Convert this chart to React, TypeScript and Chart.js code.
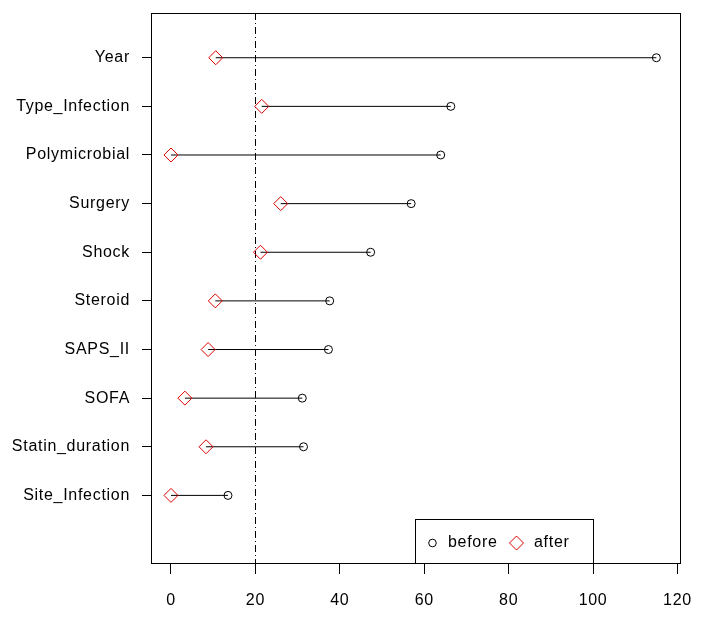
import React, { useEffect, useRef } from "react";
import { Chart, registerables } from "chart.js";

Chart.register(...registerables);

const categories = [
  "Year",
  "Type_Infection",
  "Polymicrobial",
  "Surgery",
  "Shock",
  "Steroid",
  "SAPS_II",
  "SOFA",
  "Statin_duration",
  "Site_Infection",
];
const beforeValues = [115.0, 66.3, 63.9, 56.9, 47.3, 37.6, 37.3, 31.1, 31.4, 13.5];
const afterValues = [10.6, 21.5, 0.0, 26.0, 21.2, 10.5, 8.8, 3.3, 8.3, 0.0];
const xTicks = [0, 20, 40, 60, 80, 100, 120];
const refLine = 20;
const legendLabels = ["before", "after"];

const FONT = "'Liberation Sans', Arial, sans-serif";
const RED = "#dd0000";

export default function App() {
  const ref = useRef<HTMLCanvasElement | null>(null);

  useEffect(() => {
    const canvas = ref.current;
    if (!canvas) return;
    const n = categories.length;
    const yOf = (i: number) => n - i;

    const segDatasets = categories.map((c, i) => ({
      type: "line" as const,
      label: "seg_" + c,
      data: [
        { x: afterValues[i], y: yOf(i) },
        { x: beforeValues[i], y: yOf(i) },
      ],
      borderColor: "#000",
      borderWidth: 1,
      pointRadius: 0,
      showLine: true,
      fill: false,
      order: 3,
    }));

    const spacingPlugin = {
      id: "spacing",
      beforeDraw(chart: any) {
        try {
          chart.ctx.letterSpacing = "0.7px";
        } catch (e) {}
      },
    };

    const boxPlugin = {
      id: "box",
      beforeDatasetsDraw(chart: any) {
        const { ctx, chartArea, scales } = chart;
        const x = Math.round(scales.x.getPixelForValue(refLine)) + 0.5;
        ctx.save();
        ctx.strokeStyle = "#000";
        ctx.lineWidth = 1;
        ctx.setLineDash([7, 3, 1, 3]);
        ctx.beginPath();
        ctx.moveTo(x, chartArea.top);
        ctx.lineTo(x, chartArea.bottom);
        ctx.stroke();
        ctx.restore();
      },
      afterDraw(chart: any) {
        const { ctx, chartArea, scales } = chart;
        ctx.save();
        ctx.strokeStyle = "#000";
        ctx.lineWidth = 1;
        ctx.setLineDash([]);
        const l = Math.round(chartArea.left) - 0.5;
        const t = Math.round(chartArea.top) + 0.5;
        const r = Math.round(chartArea.right) + 0.5;
        const b = Math.round(chartArea.bottom) + 0.5;
        ctx.strokeRect(l, t, r - l, b - t);

        // legend
        const lx = Math.round(scales.x.getPixelForValue(57.9)) + 0.5;
        const rx = Math.round(scales.x.getPixelForValue(100)) + 0.5;
        const ty = b - 44;
        ctx.fillStyle = "#fff";
        ctx.fillRect(lx, ty, rx - lx, b - ty);
        ctx.strokeRect(lx, ty, rx - lx, b - ty);
        const cy = ty + 23.5;
        ctx.beginPath();
        ctx.arc(lx + 17, cy, 3.8, 0, Math.PI * 2);
        ctx.stroke();
        ctx.font = "16px " + FONT;
        try {
          (ctx as any).letterSpacing = "0.7px";
        } catch (e) {}
        ctx.fillStyle = "#000";
        ctx.textBaseline = "middle";
        ctx.textAlign = "left";
        ctx.fillText(legendLabels[0], lx + 32.5, cy);
        const dx = lx + 101;
        ctx.strokeStyle = RED;
        ctx.beginPath();
        ctx.moveTo(dx - 7, cy);
        ctx.lineTo(dx, cy - 7);
        ctx.lineTo(dx + 7, cy);
        ctx.lineTo(dx, cy + 7);
        ctx.closePath();
        ctx.stroke();
        ctx.fillText(legendLabels[1], lx + 118.5, cy);
        ctx.restore();
      },
    };

    const chart = new Chart(canvas, {
      type: "scatter",
      data: {
        datasets: [
          ...segDatasets,
          {
            type: "scatter" as const,
            label: legendLabels[0],
            data: beforeValues.map((v, i) => ({ x: v, y: yOf(i) })),
            pointStyle: "circle",
            pointRadius: 4,
            borderColor: "#000",
            backgroundColor: "rgba(0,0,0,0)",
            borderWidth: 1,
            order: 1,
          },
          {
            type: "scatter" as const,
            label: legendLabels[1],
            data: afterValues.map((v, i) => ({ x: v, y: yOf(i) })),
            pointStyle: "rectRot",
            pointRadius: 7,
            borderColor: RED,
            backgroundColor: "rgba(0,0,0,0)",
            borderWidth: 1,
            order: 2,
          },
        ] as any,
      },
      options: {
        responsive: false,
        animation: false,
        devicePixelRatio: 1,
        layout: { padding: { top: 13, right: 25, left: 0, bottom: 0 } },
        plugins: {
          legend: { display: false },
          tooltip: { enabled: false },
        },
        scales: {
          x: {
            type: "linear",
            min: -4.5,
            max: 120.6,
            afterBuildTicks: (s: any) => {
              s.ticks = xTicks.map((v) => ({ value: v }));
            },
            afterFit: (s: any) => {
              s.height = 68;
              s.paddingLeft = 0;
              s.paddingRight = 0;
            },
            border: { display: false },
            grid: {
              drawOnChartArea: false,
              drawTicks: true,
              tickLength: 11,
              color: "#000",
              lineWidth: 1,
            },
            ticks: {
              color: "#000",
              font: { size: 16, family: FONT },
              padding: 17,
              maxRotation: 0,
              autoSkip: false,
            },
          },
          y: {
            type: "linear",
            min: -0.39,
            max: 10.92,
            afterBuildTicks: (s: any) => {
              s.ticks = categories.map((_, i) => ({ value: yOf(i) }));
            },
            afterFit: (s: any) => {
              s.width = 152;
              s.paddingTop = 0;
              s.paddingBottom = 0;
            },
            border: { display: false },
            grid: {
              drawOnChartArea: false,
              drawTicks: true,
              tickLength: 10,
              color: "#000",
              lineWidth: 1,
            },
            ticks: {
              color: "#000",
              font: { size: 16, family: FONT },
              padding: 12,
              autoSkip: false,
              callback: (v: any) => {
                const idx = n - Number(v);
                return categories[idx] ?? "";
              },
            },
          },
        },
      } as any,
      plugins: [spacingPlugin, boxPlugin],
    });
    return () => chart.destroy();
  }, []);

  return (
    <div style={{ position: "fixed", left: 0, top: 0, width: 705, height: 631, background: "#fff" }}>
      <canvas ref={ref} width={705} height={631} style={{ width: 705, height: 631, display: "block" }} />
    </div>
  );
}
